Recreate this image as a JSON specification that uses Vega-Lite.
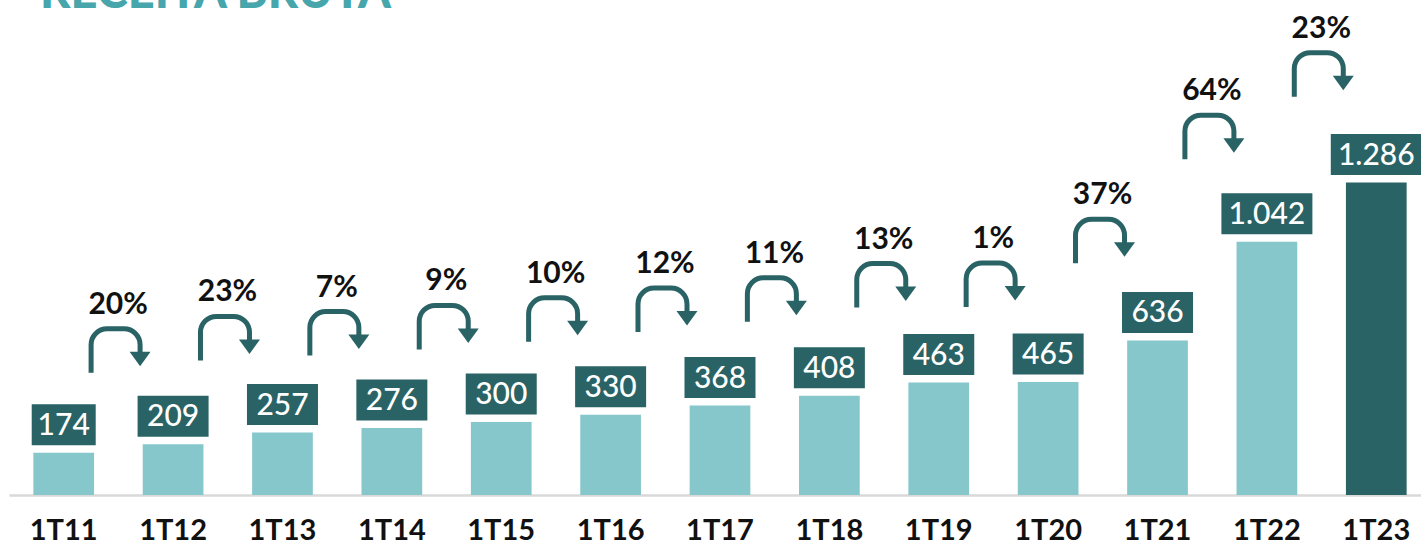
{
  "$schema": "https://vega.github.io/schema/vega-lite/v6.json",
  "autosize": {"type": "none"},
  "padding": {"left": 9, "top": 20, "right": 0, "bottom": 47},
  "width": 1412,
  "height": 475,
  "background": "white",
  "config": {
    "view": {"stroke": null},
    "locale": {"number": {"decimal": ",", "thousands": ".", "grouping": [3], "currency": ["R$", ""]}}
  },
  "title": {
    "text": "RECEITA BRUTA",
    "anchor": "start",
    "frame": "group",
    "orient": "top",
    "offset": 0,
    "dy": 41,
    "baseline": "alphabetic",
    "dx": 31,
    "font": "Lato",
    "fontSize": 47,
    "fontWeight": 900,
    "color": "#46a6ab"
  },
  "data": {
    "values": [
      {"q": "1T11", "v": 174, "g": null},
      {"q": "1T12", "v": 209, "g": "20%"},
      {"q": "1T13", "v": 257, "g": "23%"},
      {"q": "1T14", "v": 276, "g": "7%"},
      {"q": "1T15", "v": 300, "g": "9%"},
      {"q": "1T16", "v": 330, "g": "10%"},
      {"q": "1T17", "v": 368, "g": "12%"},
      {"q": "1T18", "v": 408, "g": "11%"},
      {"q": "1T19", "v": 463, "g": "13%"},
      {"q": "1T20", "v": 465, "g": "1%"},
      {"q": "1T21", "v": 636, "g": "37%"},
      {"q": "1T22", "v": 1042, "g": "64%"},
      {"q": "1T23", "v": 1286, "g": "23%"}
    ]
  },
  "encoding": {
    "x": {
      "field": "q",
      "type": "nominal",
      "sort": null,
      "scale": {"paddingInner": 0.445, "paddingOuter": 0.177, "align": 0.629},
      "axis": {
        "title": null,
        "labelAngle": 0,
        "ticks": false,
        "tickSize": 0,
        "grid": false,
        "domain": true,
        "domainColor": "#d9d9d9",
        "domainWidth": 2.5,
        "labelFont": "Lato",
        "labelFontSize": 29,
        "labelFontWeight": "bold",
        "labelColor": "#111111",
        "labelPadding": 44,
        "labelBaseline": "alphabetic"
      }
    }
  },
  "layer": [
    {
      "encoding": {
        "y": {"field": "v", "type": "quantitative", "scale": {"domain": [0, 1955], "nice": false}, "axis": null}
      },
      "layer": [
        {
          "mark": {"type": "bar"},
          "encoding": {
            "color": {
              "condition": {"test": "datum.q === '1T23'", "value": "#2a6365"},
              "value": "#85c7cb"
            }
          }
        },
        {
          "mark": {"type": "tick", "thickness": 41, "yOffset": -28, "color": "#2a6365", "opacity": 1},
          "encoding": {
            "size": {
              "condition": [
                {"test": "datum.v >= 1000", "value": 91},
                {"test": "datum.v < 200", "value": 64}
              ],
              "value": 71
            }
          }
        },
        {
          "mark": {"type": "text", "baseline": "alphabetic", "align": "center", "yOffset": -18, "font": "Lato", "fontSize": 30, "fontWeight": 500, "color": "white"},
          "encoding": {
            "text": {"field": "v", "type": "quantitative", "format": ",d"}
          }
        }
      ]
    },
    {
      "transform": [{"filter": "datum.g != null"}],
      "encoding": {
        "y": {"field": "v", "type": "quantitative", "scale": {"domain": [-268, 1585], "nice": false, "zero": false}, "axis": null}
      },
      "layer": [
        {
          "mark": {
            "type": "point",
            "shape": "M0,0 V-28 A16,16 0 0 1 16,-44 H33 A16,16 0 0 1 49,-28 V-20",
            "size": 4,
            "filled": false,
            "stroke": "#2a6365",
            "strokeWidth": 5,
            "opacity": 1,
            "xOffset": -82
          }
        },
        {
          "mark": {
            "type": "point",
            "shape": "M38.5,-21 L59.5,-21 L49,-6.5 Z",
            "size": 4,
            "filled": true,
            "fill": "#2a6365",
            "strokeWidth": 0,
            "opacity": 1,
            "xOffset": -82
          }
        },
        {
          "mark": {"type": "text", "baseline": "alphabetic", "align": "center", "xOffset": -55, "yOffset": -59, "font": "Lato", "fontSize": 30, "fontWeight": "bold", "color": "#111111"},
          "encoding": {"text": {"field": "g", "type": "nominal"}}
        }
      ]
    }
  ],
  "resolve": {"scale": {"y": "independent"}}
}
